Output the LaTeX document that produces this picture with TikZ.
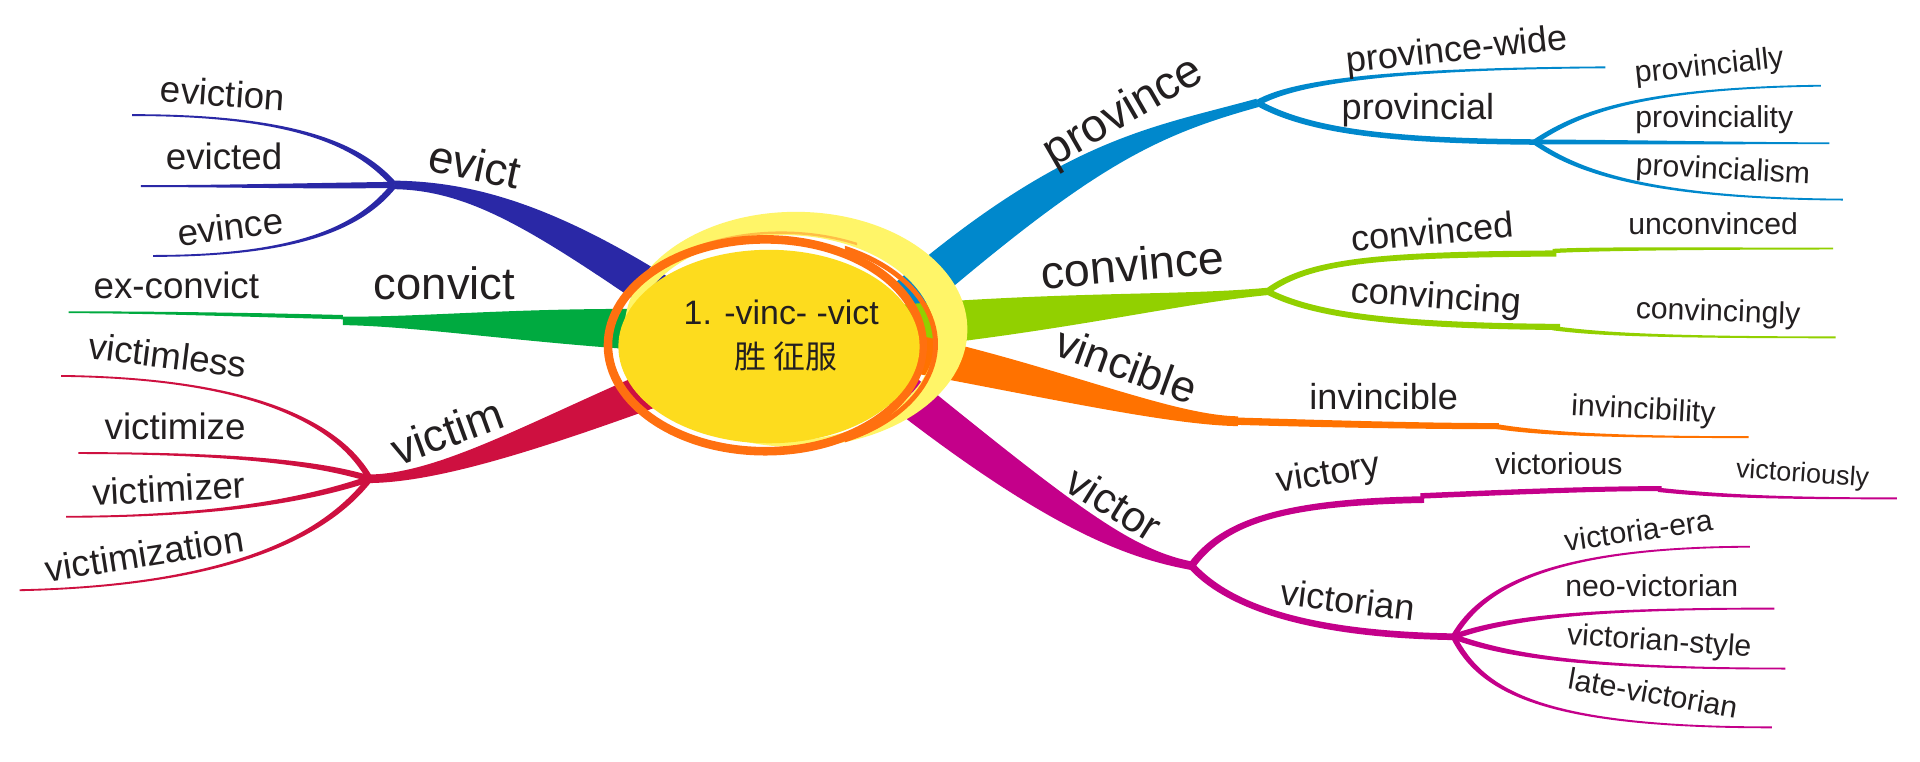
\documentclass[tikz,border=0pt]{standalone}
\usepackage{fontspec}
\setmainfont{Liberation Sans}
\newfontfamily\cjkfont{Noto Sans CJK SC}
\usetikzlibrary{calc}
\definecolor{evblue}{RGB}{42,40,166}
\definecolor{cvgreen}{RGB}{0,170,64}
\definecolor{vired}{RGB}{206,16,64}
\definecolor{prblue}{RGB}{0,136,204}
\definecolor{cogreen}{RGB}{146,208,0}
\definecolor{vcorange}{RGB}{255,114,0}
\definecolor{vmag}{RGB}{196,0,138}
\definecolor{cyellow}{RGB}{253,220,30}
\definecolor{lyellow}{RGB}{255,245,104}
\definecolor{oring}{RGB}{255,112,16}
\definecolor{loring}{RGB}{255,190,70}
\definecolor{txt}{RGB}{35,31,32}
% tapered band: colour, start, control1, control2, end, width at start, width at end (px)
\newcommand\taper[7]{%
  \pgfmathsetmacro\tpA{#6*0.3}%
  \pgfmathsetmacro\tpB{#7*0.3}%
  \fill[#1] ($(#2)!\tpA pt!90:(#3)$) .. controls ($(#3)!\tpA pt!-90:(#2)$) and ($(#4)!\tpB pt!90:(#5)$) .. ($(#5)!\tpB pt!-90:(#4)$)
    -- ($(#5)!\tpB pt!90:(#4)$) .. controls ($(#4)!\tpB pt!-90:(#5)$) and ($(#3)!\tpA pt!90:(#2)$) .. ($(#2)!\tpA pt!-90:(#3)$) -- cycle;}
\newcommand\mmlab[2]{{\fontsize{#1}{#1}\selectfont #2}}
\tikzset{lab/.style={inner sep=0pt, text=txt, anchor=center}}
\begin{document}
\begin{tikzpicture}[x=0.6pt,y=-0.6pt]
\fill[white] (0,0) rectangle (1568,622);
\useasboundingbox (0,0) rectangle (1568,622);
% junctions and ends
\coordinate (evJ) at (322,151);
\coordinate (evA) at (108,94);
\coordinate (evB) at (115,152);
\coordinate (evC) at (125,209);
\coordinate (cvS) at (280,262);
\coordinate (cvJ) at (280,259);
\coordinate (cvA) at (56,255);
\coordinate (viJ) at (302,391);
\coordinate (viA) at (50,307);
\coordinate (viB) at (64,370);
\coordinate (viC) at (54,422);
\coordinate (viD) at (16,482);
\coordinate (prJ) at (1027,84);
\coordinate (prA) at (1311,55);
\coordinate (prlJ) at (1253,116);
\coordinate (prB) at (1487,70);
\coordinate (prC) at (1494,117);
\coordinate (prD) at (1505,163);
\coordinate (coJ) at (1035,238);
\coordinate (coS1) at (1271,207);
\coordinate (coS1b) at (1268,205);
\coordinate (coA) at (1497,203);
\coordinate (coS2) at (1274,267);
\coordinate (coS2b) at (1268,268);
\coordinate (coB) at (1499,275.5);
\coordinate (vcS1) at (1011,344);
\coordinate (vcS2) at (1224,348);
\coordinate (vcS2b) at (1220,348);
\coordinate (vcA) at (1428,357);
\coordinate (vJ) at (973,462);
\coordinate (vyS1) at (1163,408);
\coordinate (vyS1b) at (1160,405);
\coordinate (vyS2) at (1357,399);
\coordinate (vyS2b) at (1354,400);
\coordinate (vyA) at (1549,407);
\coordinate (vnJ) at (1187,520);
\coordinate (vnA) at (1429,446.5);
\coordinate (vnB) at (1449,497);
\coordinate (vnC) at (1458,546);
\coordinate (vnD) at (1447,594);
% main bands
\taper{evblue}{evJ}{390,152}{455,182}{580,268}{7}{32}
\taper{cvgreen}{cvS}{350,263}{450,266}{600,272}{7}{36}
\taper{vired}{viJ}{370,390}{470,340}{600,292}{7}{32}
\taper{prblue}{prJ}{940,108}{880,125}{740,245}{7}{33}
\taper{cogreen}{coJ}{960,245}{860,255}{700,270}{6}{36}
\taper{vcorange}{vcS1}{950,343}{840,305}{700,280}{8}{32}
\taper{vmag}{vJ}{920,452}{860,420}{700,290}{7}{32}
% evict
\taper{evblue}{evJ}{295,120}{245,94}{evA}{5}{1.5}
\taper{evblue}{evJ}{250,152}{180,152}{evB}{5}{1.5}
\taper{evblue}{evJ}{295,185}{245,209}{evC}{5}{1.5}
% convict
\taper{cvgreen}{cvJ}{200,257}{120,255}{cvA}{3.5}{1.5}
% victim
\taper{vired}{viJ}{280,352}{220,309}{viA}{5}{1.5}
\taper{vired}{viJ}{260,378}{190,370}{viB}{5}{1.5}
\taper{vired}{viJ}{260,405}{190,422}{viC}{5}{1.5}
\taper{vired}{viJ}{270,432}{200,478}{viD}{5}{1.5}
% province
\taper{prblue}{prJ}{1060,65}{1150,56}{prA}{5}{1.5}
\taper{prblue}{prJ}{1070,108}{1140,115}{prlJ}{5}{4.5}
\taper{prblue}{prlJ}{1285,95}{1330,72}{prB}{4}{1.5}
\taper{prblue}{prlJ}{1330,116}{1420,117}{prC}{4}{1.5}
\taper{prblue}{prlJ}{1285,138}{1340,162}{prD}{4}{1.5}
% convince
\taper{cogreen}{coJ}{1070,212}{1130,208}{coS1}{5}{5}
\taper{cogreen}{coS1b}{1300,203}{1400,203}{coA}{3.5}{1.5}
\taper{cogreen}{coJ}{1070,256}{1130,266}{coS2}{5}{5}
\taper{cogreen}{coS2b}{1300,272}{1340,275.5}{coB}{3.5}{1.5}
% vincible
\taper{vcorange}{vcS1}{1080,346}{1160,348}{vcS2}{6}{5}
\taper{vcorange}{vcS2b}{1250,353}{1300,357}{vcA}{4}{1.5}
% victor
\taper{vmag}{vJ}{1000,425}{1050,410}{vyS1}{6}{5.5}
\taper{vmag}{vyS1b}{1230,402}{1300,399}{vyS2}{4.5}{4}
\taper{vmag}{vyS2b}{1400,405}{1450,407}{vyA}{3.5}{1.5}
\taper{vmag}{vJ}{1000,492}{1060,518}{vnJ}{6}{5.5}
\taper{vmag}{vnJ}{1210,480}{1265,447}{vnA}{4.5}{1.5}
\taper{vmag}{vnJ}{1230,505}{1290,497}{vnB}{4.5}{1.5}
\taper{vmag}{vnJ}{1230,535}{1290,546}{vnC}{4.5}{1.5}
\taper{vmag}{vnJ}{1210,565}{1260,594}{vnD}{4.5}{1.5}
% centre
\fill[lyellow, even odd rule] (650,269) ellipse [x radius=140, y radius=96] (640,276) ellipse [x radius=124, y radius=84];
\begin{scope}
\clip (470,140) rectangle (700,262);
\draw[loring, line width=1.2pt] (638,282) ellipse [x radius=141, y radius=92];
\end{scope}
\draw[oring, line width=4.2pt] (625,282) ellipse [x radius=128.5, y radius=86.5];
\begin{scope}
\clip (690,150) rectangle (800,420);
\draw[oring, line width=2.4pt] (632,281) ellipse [x radius=132, y radius=87];
\end{scope}
\fill[cyellow] (628,283) ellipse [x radius=123, y radius=79];
\node[lab] (root1) at (638,255) {\fontsize{16.6}{16.6}\selectfont 1. -vinc- -vict};
\node[lab] (root2) at (642,291) {\cjkfont\fontsize{15.6}{15.6}\selectfont 胜 征服};
% labels left
\node[lab, rotate=-4] (tEviction) at (182,76) {\mmlab{18}{eviction}};
\node[lab] (tEvicted) at (183,128) {\mmlab{18}{evicted}};
\node[lab, rotate=7] (tEvince) at (188,185) {\mmlab{18}{evince}};
\node[lab, rotate=-12] (tEvict) at (388,134) {\mmlab{22.2}{evict}};
\node[lab] (tExconvict) at (144,233) {\mmlab{18}{ex-convict}};
\node[lab] (tConvict) at (363,231) {\mmlab{22.2}{convict}};
\node[lab, rotate=-7] (tVictimless) at (137,290) {\mmlab{18}{victimless}};
\node[lab] (tVictimize) at (143,348) {\mmlab{18}{victimize}};
\node[lab, rotate=3] (tVictimizer) at (138,399) {\mmlab{18}{victimizer}};
\node[lab, rotate=9] (tVictimization) at (118,452) {\mmlab{18}{victimization}};
\node[lab, rotate=20] (tVictim) at (365,352) {\mmlab{22.2}{victim}};
% labels right
\node[lab, rotate=30] (tProvince) at (918,92) {\mmlab{22.8}{province}};
\node[lab, rotate=6] (tProvinceWide) at (1190,42) {\mmlab{17.7}{province-wide}};
\node[lab] (tProvincial) at (1158,90) {\mmlab{17.7}{provincial}};
\node[lab, rotate=6] (tProvincially) at (1396,55) {\mmlab{14.8}{provincially}};
\node[lab] (tProvinciality) at (1400,98) {\mmlab{14.8}{provinciality}};
\node[lab, rotate=-3] (tProvincialism) at (1407,140) {\mmlab{14.8}{provincialism}};
\node[lab, rotate=5] (tConvince) at (925,216) {\mmlab{22.8}{convince}};
\node[lab, rotate=5] (tConvinced) at (1170,189) {\mmlab{17.7}{convinced}};
\node[lab] (tUnconvinced) at (1399,183) {\mmlab{14.8}{unconvinced}};
\node[lab, rotate=-4] (tConvincing) at (1173,244) {\mmlab{17.7}{convincing}};
\node[lab, rotate=-2] (tConvincingly) at (1403,256) {\mmlab{14.8}{convincingly}};
\node[lab, rotate=-20] (tVincible) at (920,298) {\mmlab{21.6}{vincible}};
\node[lab] (tInvincible) at (1130,324) {\mmlab{17.7}{invincible}};
\node[lab, rotate=-3] (tInvincibility) at (1342,336) {\mmlab{14.8}{invincibility}};
\node[lab, rotate=-32] (tVictor) at (910,411) {\mmlab{21}{victor}};
\node[lab, rotate=9] (tVictory) at (1085,388) {\mmlab{17.7}{victory}};
\node[lab] (tVictorious) at (1273,379) {\mmlab{14.8}{victorious}};
\node[lab, rotate=-4] (tVictoriously) at (1472,388) {\mmlab{13.2}{victoriously}};
\node[lab, rotate=-7] (tVictorian) at (1101,490) {\mmlab{17.7}{victorian}};
\node[lab, rotate=8] (tVictoriaEra) at (1338,433) {\mmlab{14.8}{victoria-era}};
\node[lab] (tNeoVictorian) at (1349,478) {\mmlab{14.8}{neo-victorian}};
\node[lab, rotate=-4] (tVictorianStyle) at (1355,525) {\mmlab{14.8}{victorian-style}};
\node[lab, rotate=-10] (tLateVictorian) at (1350,566) {\mmlab{14.8}{late-victorian}};
\end{tikzpicture}
\end{document}
